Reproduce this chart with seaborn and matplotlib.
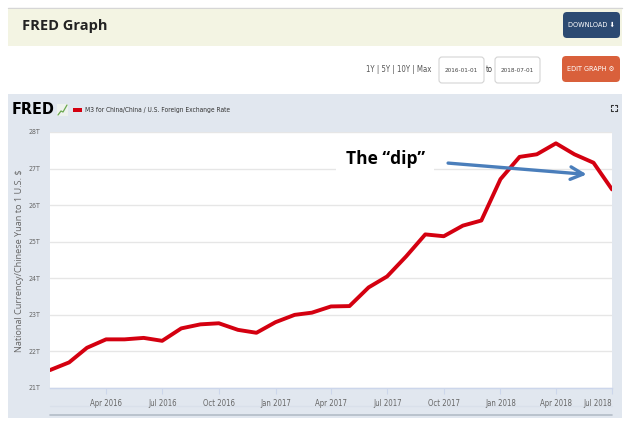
import matplotlib
matplotlib.use("Agg")
import matplotlib.pyplot as plt
from matplotlib.patches import Rectangle, FancyBboxPatch
from matplotlib.lines import Line2D
import pandas as pd
import seaborn as sns

# monthly M3 for China converted to US$ (trillions)
months = pd.date_range("2016-01-01", "2018-07-01", freq="MS")
m3_trillions = [21.49, 21.70, 22.10, 22.33, 22.33, 22.37, 22.29, 22.63, 22.74, 22.77, 22.59, 22.51,
                22.80, 23.00, 23.06, 23.23, 23.24, 23.75, 24.05, 24.60, 25.20, 25.15, 25.44, 25.58,
                26.71, 27.32, 27.39, 27.69, 27.39, 27.16, 26.43]
y_ticks = [21, 22, 23, 24, 25, 26, 27, 28]
y_tick_labels = [f"{v}T" for v in y_ticks]
x_ticks = pd.date_range("2016-04-01", "2018-07-01", freq="QS")
x_tick_labels = [d.strftime("%b %Y") for d in x_ticks]
series_name = "M3 for China/China / U.S. Foreign Exchange Rate"
y_title = "National Currency/Chinese Yuan to 1 U.S. $"
note_text = "The \u201cdip\u201d"
note_pos = (pd.Timestamp("2017-06-28"), 27.25)
arrow_from = (pd.Timestamp("2017-10-08"), 27.15)
arrow_to = (pd.Timestamp("2018-05-21"), 26.84)

sns.set_style("white")
plt.rcParams["font.family"] = ["Open Sans", "DejaVu Sans"]
NARROW = dict(family="DejaVu Sans", fontstretch="condensed")

W, H = 640, 425
fig = plt.figure(figsize=(W / 100, H / 100), dpi=100)
fig.patch.set_facecolor("white")
tr = fig.dpi_scale_trans


def box(x, y, w, h, color, r=0, ec="none", lw=0, z=-1):
    # pixel box measured from the top-left corner
    xy = (x / 100, (H - y - h) / 100)
    if r:
        p = FancyBboxPatch(xy, w / 100, h / 100, boxstyle=f"round,pad=0,rounding_size={r / 100}",
                           fc=color, ec=ec, lw=lw, transform=tr, zorder=z)
    else:
        p = Rectangle(xy, w / 100, h / 100, fc=color, ec=ec, lw=lw, transform=tr, zorder=z)
    fig.add_artist(p)


def label(x, y, s, **kw):
    kw.setdefault("va", "center")
    fig.text(x / 100, (H - y) / 100, s, transform=tr, **kw)


def seg(xs, ys, color, lw=1, z=2):
    fig.add_artist(Line2D([x / 100 for x in xs], [(H - y) / 100 for y in ys],
                          color=color, lw=lw, transform=tr, zorder=z))


# header
seg([8, 622], [8, 8], "#d6d6d6", lw=1, z=-1)
box(8, 9, 614, 37, "#f3f4e3")
label(22, 26, "FRED Graph", fontsize=10.5, weight="bold", color="#222222")
box(563, 12, 57, 26, "#2c4a72", r=4)
label(591, 25, "DOWNLOAD \u2b07", fontsize=5.2, color="white", ha="center", **NARROW)
label(431, 70, "1Y | 5Y | 10Y | Max", fontsize=5.6, color="#555555", ha="right", **NARROW)
box(439, 57, 45, 26, "white", r=3, ec="#d4d4d4", lw=0.8)
box(495, 57, 45, 26, "white", r=3, ec="#d4d4d4", lw=0.8)
label(461.5, 71, "2016-01-01", fontsize=4.6, color="#444444", ha="center", **NARROW)
label(489, 70, "to", fontsize=5.6, color="#444444", ha="center", **NARROW)
label(517.5, 71, "2018-07-01", fontsize=4.6, color="#444444", ha="center", **NARROW)
box(562, 56, 58, 26, "#d9603b", r=4)
label(591, 69, "EDIT GRAPH \u2699", fontsize=5.2, color="white", ha="center", **NARROW)

# chart panel
box(8, 94, 614, 324, "#e1e7ef")
label(12, 110, "FRED", fontsize=11.5, weight="heavy", color="black", **NARROW)
box(57, 104, 11, 12, "#eef2ee")
seg([58, 61, 63, 67], [115, 111, 112, 105], "#6aa84f", lw=0.9, z=0)
box(73, 108, 9, 4, "#d40010")
label(85, 110, series_name, fontsize=4.8, color="#333333", **NARROW)
for cx, cy, dx, dy in [(611, 105, 1, 1), (617, 105, -1, 1), (611, 111, 1, -1), (617, 111, -1, -1)]:
    seg([cx, cx, cx + 2 * dx], [cy + 2 * dy, cy, cy], "#333333", lw=0.8, z=0)
label(20, 261, y_title, fontsize=6.6, color="#666666", rotation=90, ha="center")
seg([50, 612], [406, 406], "#d9e0ea", lw=1, z=0)
seg([50, 612], [415, 415], "#b3bcc7", lw=1.2, z=0)

ax = fig.add_axes([50 / W, 1 - 388 / H, 562 / W, 256 / H])
ax.set_facecolor("white")
df = pd.DataFrame({"date": months, "value": m3_trillions})
sns.lineplot(data=df, x="date", y="value", ax=ax, color="#d40010", linewidth=2.8, zorder=3)

ax.set_xlim(months[0], months[-1])
ax.set_ylim(21, 28)
ax.set_yticks(y_ticks)
ax.set_yticklabels(y_tick_labels)
ax.set_xticks(x_ticks)
ax.set_xticklabels(x_tick_labels)
ax.set_xlabel("")
ax.set_ylabel("")
for y in y_ticks:
    ax.axhline(y, color="#e6e6e6", lw=1, zorder=1)
for s in ["top", "right", "left"]:
    ax.spines[s].set_visible(False)
ax.spines["bottom"].set_color("#ccd6eb")
ax.spines["bottom"].set_linewidth(1)
ax.tick_params(axis="y", length=0, pad=7, labelsize=5.0, labelcolor="#666666")
ax.tick_params(axis="x", length=4, width=0.8, color="#ccd6eb", pad=4, labelsize=5.6,
               labelcolor="#666666", bottom=True)
for t in ax.get_xticklabels() + ax.get_yticklabels():
    t.set_family("DejaVu Sans")
    t.set_stretch("condensed")
ax.get_xticklabels()[-1].set_ha("right")

ax.text(*note_pos, note_text, ha="center", va="center", fontsize=12.5, weight="bold",
        color="black", zorder=4, bbox=dict(boxstyle="square,pad=0.55", fc="white", ec="none"))
ax.annotate("", xy=arrow_to, xytext=arrow_from, zorder=5,
            arrowprops=dict(arrowstyle="->,head_length=0.9,head_width=0.45", color="#4a7ebb",
                            lw=2.4, shrinkA=0, shrinkB=0, mutation_scale=10))

fig.savefig("out.png", dpi=100)
